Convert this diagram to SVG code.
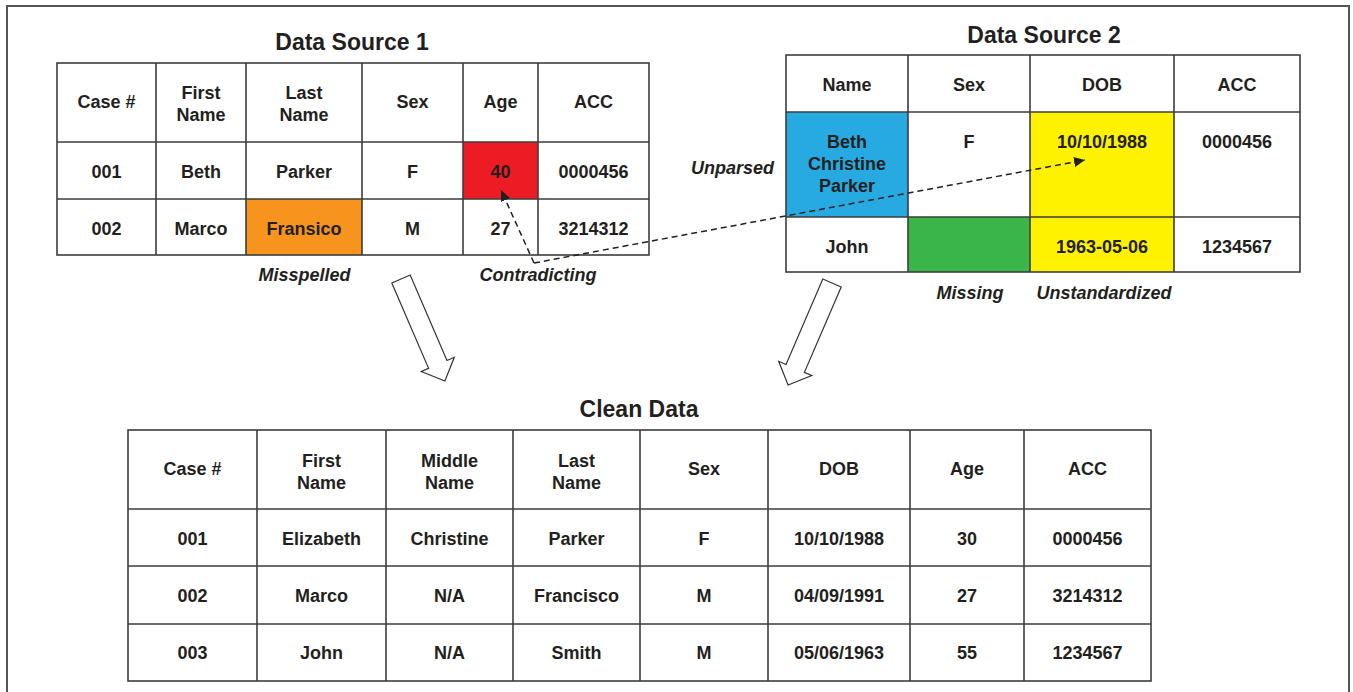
<svg xmlns="http://www.w3.org/2000/svg" width="1353" height="692" viewBox="0 0 1353 692">
<style>
text{font-family:"Liberation Sans",Arial,Helvetica,sans-serif;font-weight:bold;fill:#231f20;text-anchor:middle}
.c{font-size:18px}
.t{font-size:23px}
.l{font-size:18px;font-style:italic}
.grid{fill:none;stroke:#3d3d3d;stroke-width:1.6}
.frame{fill:#fff;stroke:#555;stroke-width:2}
.dash{fill:none;stroke:#231f20;stroke-width:1.5;stroke-dasharray:6 4}
.blk{fill:#fff;stroke:#333;stroke-width:1.2}
</style>
<defs>
<marker id="ah" markerUnits="userSpaceOnUse" markerWidth="12" markerHeight="10" refX="11" refY="5" orient="auto">
<path d="M0,0 L11,5 L0,10 z" fill="#231f20"/>
</marker>
</defs>
<rect class="frame" x="7" y="6" width="1342" height="700"/>

<g id="ds1">
<text class="t" x="352" y="50">Data Source 1</text>
<rect x="463" y="142" width="75" height="57" fill="#ed1c24"/>
<rect x="246" y="199" width="116" height="56" fill="#f7941d"/>
<rect class="grid" x="57" y="63" width="592" height="192"/>
<path class="grid" d="M156,63V255M246,63V255M362,63V255M463,63V255M538,63V255M57,142H649M57,199H649"/>
<text class="c" x="106.5" y="108">Case #</text>
<text class="c" x="201" y="99">First</text><text class="c" x="201" y="121">Name</text>
<text class="c" x="304" y="99">Last</text><text class="c" x="304" y="121">Name</text>
<text class="c" x="412.5" y="108">Sex</text>
<text class="c" x="500.5" y="108">Age</text>
<text class="c" x="593.5" y="108">ACC</text>
<text class="c" x="106.5" y="178">001</text>
<text class="c" x="201" y="178">Beth</text>
<text class="c" x="304" y="178">Parker</text>
<text class="c" x="412.5" y="178">F</text>
<text class="c" x="500.5" y="178">40</text>
<text class="c" x="593.5" y="178">0000456</text>
<text class="c" x="106.5" y="235">002</text>
<text class="c" x="201" y="235">Marco</text>
<text class="c" x="304" y="235">Fransico</text>
<text class="c" x="412.5" y="235">M</text>
<text class="c" x="500.5" y="235">27</text>
<text class="c" x="593.5" y="235">3214312</text>
<text class="l" x="304.5" y="281">Misspelled</text>
<text class="l" x="538" y="281">Contradicting</text>
</g>

<g id="ds2">
<text class="t" x="1044" y="43">Data Source 2</text>
<rect x="786" y="112" width="122" height="105" fill="#27aae1"/>
<rect x="1030" y="112" width="144" height="160" fill="#fff200"/>
<rect x="908" y="217" width="122" height="55" fill="#39b54a"/>
<rect class="grid" x="786" y="55" width="514" height="217"/>
<path class="grid" d="M908,55V272M1030,55V272M1174,55V272M786,112H1300M786,217H1300"/>
<text class="c" x="847" y="91">Name</text>
<text class="c" x="969" y="91">Sex</text>
<text class="c" x="1102" y="91">DOB</text>
<text class="c" x="1237" y="91">ACC</text>
<text class="c" x="847" y="148">Beth</text>
<text class="c" x="847" y="170">Christine</text>
<text class="c" x="847" y="192">Parker</text>
<text class="c" x="969" y="148">F</text>
<text class="c" x="1102" y="148">10/10/1988</text>
<text class="c" x="1237" y="148">0000456</text>
<text class="c" x="847" y="253">John</text>
<text class="c" x="1102" y="253">1963-05-06</text>
<text class="c" x="1237" y="253">1234567</text>
<text class="l" x="774" y="174" style="text-anchor:end">Unparsed</text>
<text class="l" x="970" y="299">Missing</text>
<text class="l" x="1104" y="299">Unstandardized</text>
</g>

<g id="clean">
<text class="t" x="639" y="417">Clean Data</text>
<rect class="grid" x="128" y="430" width="1023" height="251"/>
<path class="grid" d="M257,430V681M386,430V681M513,430V681M640,430V681M768,430V681M910,430V681M1024,430V681M128,509H1151M128,566H1151M128,624H1151"/>
<text class="c" x="192.5" y="475">Case #</text>
<text class="c" x="321.5" y="466.5">First</text><text class="c" x="321.5" y="488.5">Name</text>
<text class="c" x="449.5" y="466.5">Middle</text><text class="c" x="449.5" y="488.5">Name</text>
<text class="c" x="576.5" y="466.5">Last</text><text class="c" x="576.5" y="488.5">Name</text>
<text class="c" x="704" y="475">Sex</text>
<text class="c" x="839" y="475">DOB</text>
<text class="c" x="967" y="475">Age</text>
<text class="c" x="1087.5" y="475">ACC</text>
<text class="c" x="192.5" y="545">001</text>
<text class="c" x="321.5" y="545">Elizabeth</text>
<text class="c" x="449.5" y="545">Christine</text>
<text class="c" x="576.5" y="545">Parker</text>
<text class="c" x="704" y="545">F</text>
<text class="c" x="839" y="545">10/10/1988</text>
<text class="c" x="967" y="545">30</text>
<text class="c" x="1087.5" y="545">0000456</text>
<text class="c" x="192.5" y="602">002</text>
<text class="c" x="321.5" y="602">Marco</text>
<text class="c" x="449.5" y="602">N/A</text>
<text class="c" x="576.5" y="602">Francisco</text>
<text class="c" x="704" y="602">M</text>
<text class="c" x="839" y="602">04/09/1991</text>
<text class="c" x="967" y="602">27</text>
<text class="c" x="1087.5" y="602">3214312</text>
<text class="c" x="192.5" y="659">003</text>
<text class="c" x="321.5" y="659">John</text>
<text class="c" x="449.5" y="659">N/A</text>
<text class="c" x="576.5" y="659">Smith</text>
<text class="c" x="704" y="659">M</text>
<text class="c" x="839" y="659">05/06/1963</text>
<text class="c" x="967" y="659">55</text>
<text class="c" x="1087.5" y="659">1234567</text>
</g>

<g id="connectors">
<path class="dash" d="M534,263 L501,190" marker-end="url(#ah)"/>
<path class="dash" d="M534,263 L1085,160" marker-end="url(#ah)"/>
<polygon class="blk" transform="translate(401,279) rotate(-23.3)" points="-10,0 10,0 10,93 18,93 0,111 -18,93 -10,93"/>
<polygon class="blk" transform="translate(832,283) rotate(23.3)" points="-10,0 10,0 10,93 18,93 0,111 -18,93 -10,93"/>
</g>
</svg>
